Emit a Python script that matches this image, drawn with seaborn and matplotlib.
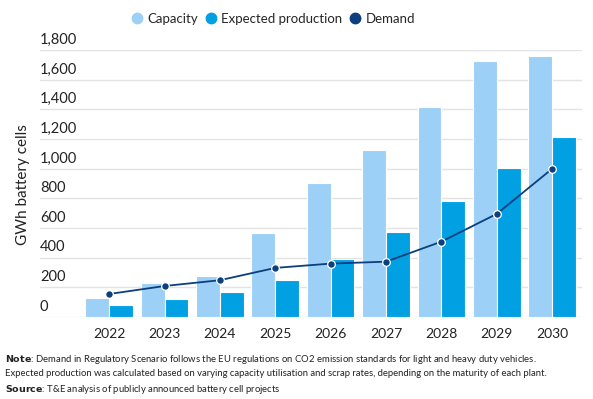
import pandas as pd
import numpy as np
import seaborn as sns
import matplotlib.pyplot as plt
from matplotlib.lines import Line2D
import matplotlib.transforms as mtransforms

years = ['2022', '2023', '2024', '2025', '2026', '2027', '2028', '2029', '2030']
capacity = [128, 227, 279, 569, 906, 1125, 1413, 1723, 1757]
production = [81, 121, 167, 248, 394, 574, 783, 1006, 1213]
demand = [155, 209, 248, 331, 360, 373, 508, 695, 999]
y_ticks = [0, 200, 400, 600, 800, 1000, 1200, 1400, 1600, 1800]

c_cap = '#9dd0f6'
c_prod = '#00a0e3'
c_dem = '#0b3f7e'

sns.set_style('white')
plt.rcParams['font.family'] = ['Lato', 'DejaVu Sans']

df = pd.DataFrame({'year': years * 2,
                   'value': capacity + production,
                   'series': ['Capacity'] * 9 + ['Expected production'] * 9})

fig = plt.figure(figsize=(5.93, 3.99), dpi=100)
ax = fig.add_axes([40 / 593, 1 - 317 / 399, 542 / 593, 267 / 399])

sns.barplot(data=df, x='year', y='value', hue='series', ax=ax,
            palette=[c_cap, c_prod], width=0.86, edgecolor='white',
            linewidth=0.8, legend=False, saturation=1)

x = np.arange(len(years))
ax.plot(x, demand, color=c_dem, lw=1.3, marker='o', ms=5.5,
        mfc=c_dem, mec='white', mew=0.9, zorder=5)

ax.set_ylim(0, 1800)
ax.set_xlim(-1.25, 8.54)
ax.set_yticks(y_ticks)
ax.yaxis.grid(True, color='#e3e3e3', lw=1)
ax.set_axisbelow(True)
ax.tick_params(axis='y', length=0, labelleft=False)
ax.tick_params(axis='x', length=0, labelsize=10, pad=8, colors='#222222')
ax.set_xlabel('')
ax.set_ylabel('')
for s in ax.spines.values():
    s.set_visible(False)

trans = mtransforms.blended_transform_factory(ax.transAxes, ax.transData)
for t in y_ticks:
    ax.text(0.0, t + 22, f'{t:,}', transform=trans, ha='left', va='bottom',
            fontsize=10.5, color='#222222')

fig.text(23 / 593, 1 - 185 / 399, 'GWh battery cells', rotation=90,
         ha='center', va='center', fontsize=11, color='#222222')

handles = [Line2D([], [], marker='o', ls='', color=c, ms=7.5) for c in [c_cap, c_prod, c_dem]]
fig.legend(handles, ['Capacity', 'Expected production', 'Demand'],
           loc='center', bbox_to_anchor=(0.46, 1 - 19 / 399), ncol=3, frameon=False,
           fontsize=9.5, handletextpad=0.25, columnspacing=0.5, handlelength=1.0)

fs = 6.8
fig.text(5 / 593, 1 - 359 / 399, r'$\bf{Note}$: Demand in Regulatory Scenario follows the EU regulations on CO2 emission standards for light and heavy duty vehicles.',
         fontsize=fs, va='center', color='#222222')
fig.text(5 / 593, 1 - 374 / 399, 'Expected production was calculated based on varying capacity utilisation and scrap rates, depending on the maturity of each plant.',
         fontsize=fs, va='center', color='#222222')
fig.text(5 / 593, 1 - 390 / 399, r'$\bf{Source}$: T&E analysis of publicly announced battery cell projects',
         fontsize=fs, va='center', color='#222222')

plt.savefig('out.png', dpi=100)
